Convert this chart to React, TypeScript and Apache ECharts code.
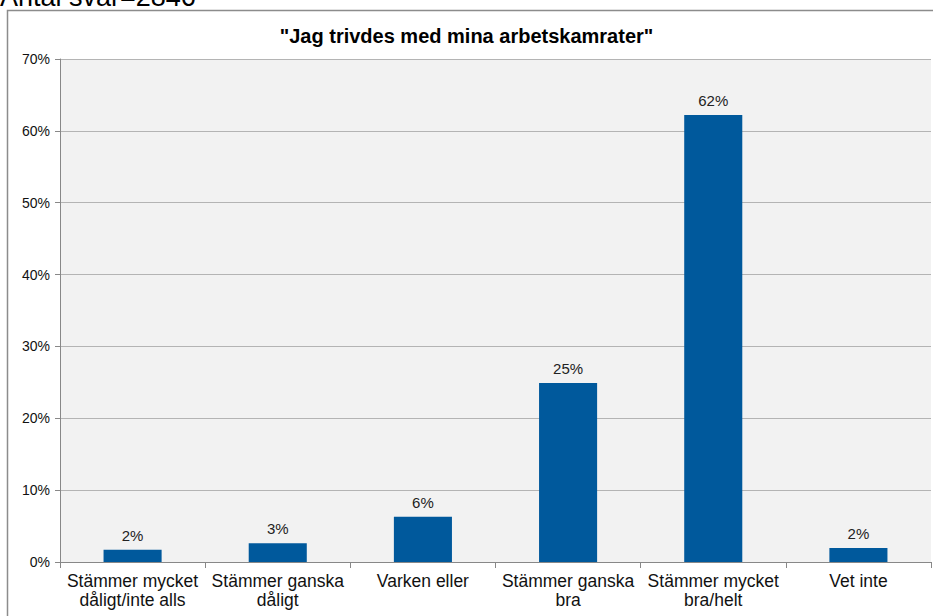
import React, { useEffect, useRef } from "react";
import * as echarts from "echarts";

const categories = [
  "Stämmer mycket\ndåligt/inte alls",
  "Stämmer ganska\ndåligt",
  "Varken eller",
  "Stämmer ganska\nbra",
  "Stämmer mycket\nbra/helt",
  "Vet inte",
];
const values = [1.7, 2.6, 6.3, 24.9, 62.2, 1.95];
const labels = ["2%", "3%", "6%", "25%", "62%", "2%"];
const titleText = '"Jag trivdes med mina arbetskamrater"';
const noteText = "Antal svar=2846";

export default function App() {
  const ref = useRef<HTMLDivElement>(null);
  useEffect(() => {
    if (!ref.current) return;
    const chart = echarts.init(ref.current, null, { renderer: "svg" });
    const font = "Arial, 'Liberation Sans', sans-serif";
    chart.setOption({
      animation: false,
      backgroundColor: "#ffffff",
      textStyle: { fontFamily: font },
      title: {
        text: titleText,
        left: "center",
        top: 21,
        textStyle: { fontSize: 20, fontWeight: "bold", color: "#000", fontFamily: font },
      },
      graphic: [
        {
          type: "rect",
          shape: { x: 7.5, y: 10.5, width: 940, height: 640 },
          style: { fill: "none", stroke: "#8c8c8c", lineWidth: 1.5 },
          silent: true,
          z: -1,
        },
        {
          type: "text",
          left: 0,
          top: -17,
          style: { text: noteText, font: `27px ${font}`, fill: "#000" },
        },
      ],
      grid: { left: 60, right: 2, top: 59, bottom: 54, backgroundColor: "#f2f2f2", show: true, borderWidth: 0 },
      xAxis: {
        type: "category",
        data: categories,
        axisLine: { lineStyle: { color: "#888", width: 1 } },
        axisTick: { show: true, length: 6, lineStyle: { color: "#888" } },
        axisLabel: { fontSize: 17.5, color: "#111", margin: 9, lineHeight: 19, interval: 0, fontFamily: font },
      },
      yAxis: {
        type: "value",
        min: 0,
        max: 70,
        interval: 10,
        axisLine: { show: true, lineStyle: { color: "#888", width: 1 } },
        axisTick: { show: true, length: 5, lineStyle: { color: "#888" } },
        axisLabel: { fontSize: 14, color: "#111", margin: 10, formatter: "{value}%", fontFamily: font },
        splitLine: { lineStyle: { color: "#b4b4b4", width: 1 } },
      },
      series: [
        {
          type: "bar",
          data: values,
          barWidth: "40%",
          itemStyle: { color: "#00599c" },
          label: {
            show: true,
            position: "top",
            distance: 7,
            fontSize: 15,
            color: "#222",
            fontFamily: font,
            formatter: (p: any) => labels[p.dataIndex],
          },
        },
      ],
    });
    return () => chart.dispose();
  }, []);
  return (
    <div
      ref={ref}
      style={{ position: "fixed", left: 0, top: 0, width: 933, height: 616 }}
    />
  );
}
